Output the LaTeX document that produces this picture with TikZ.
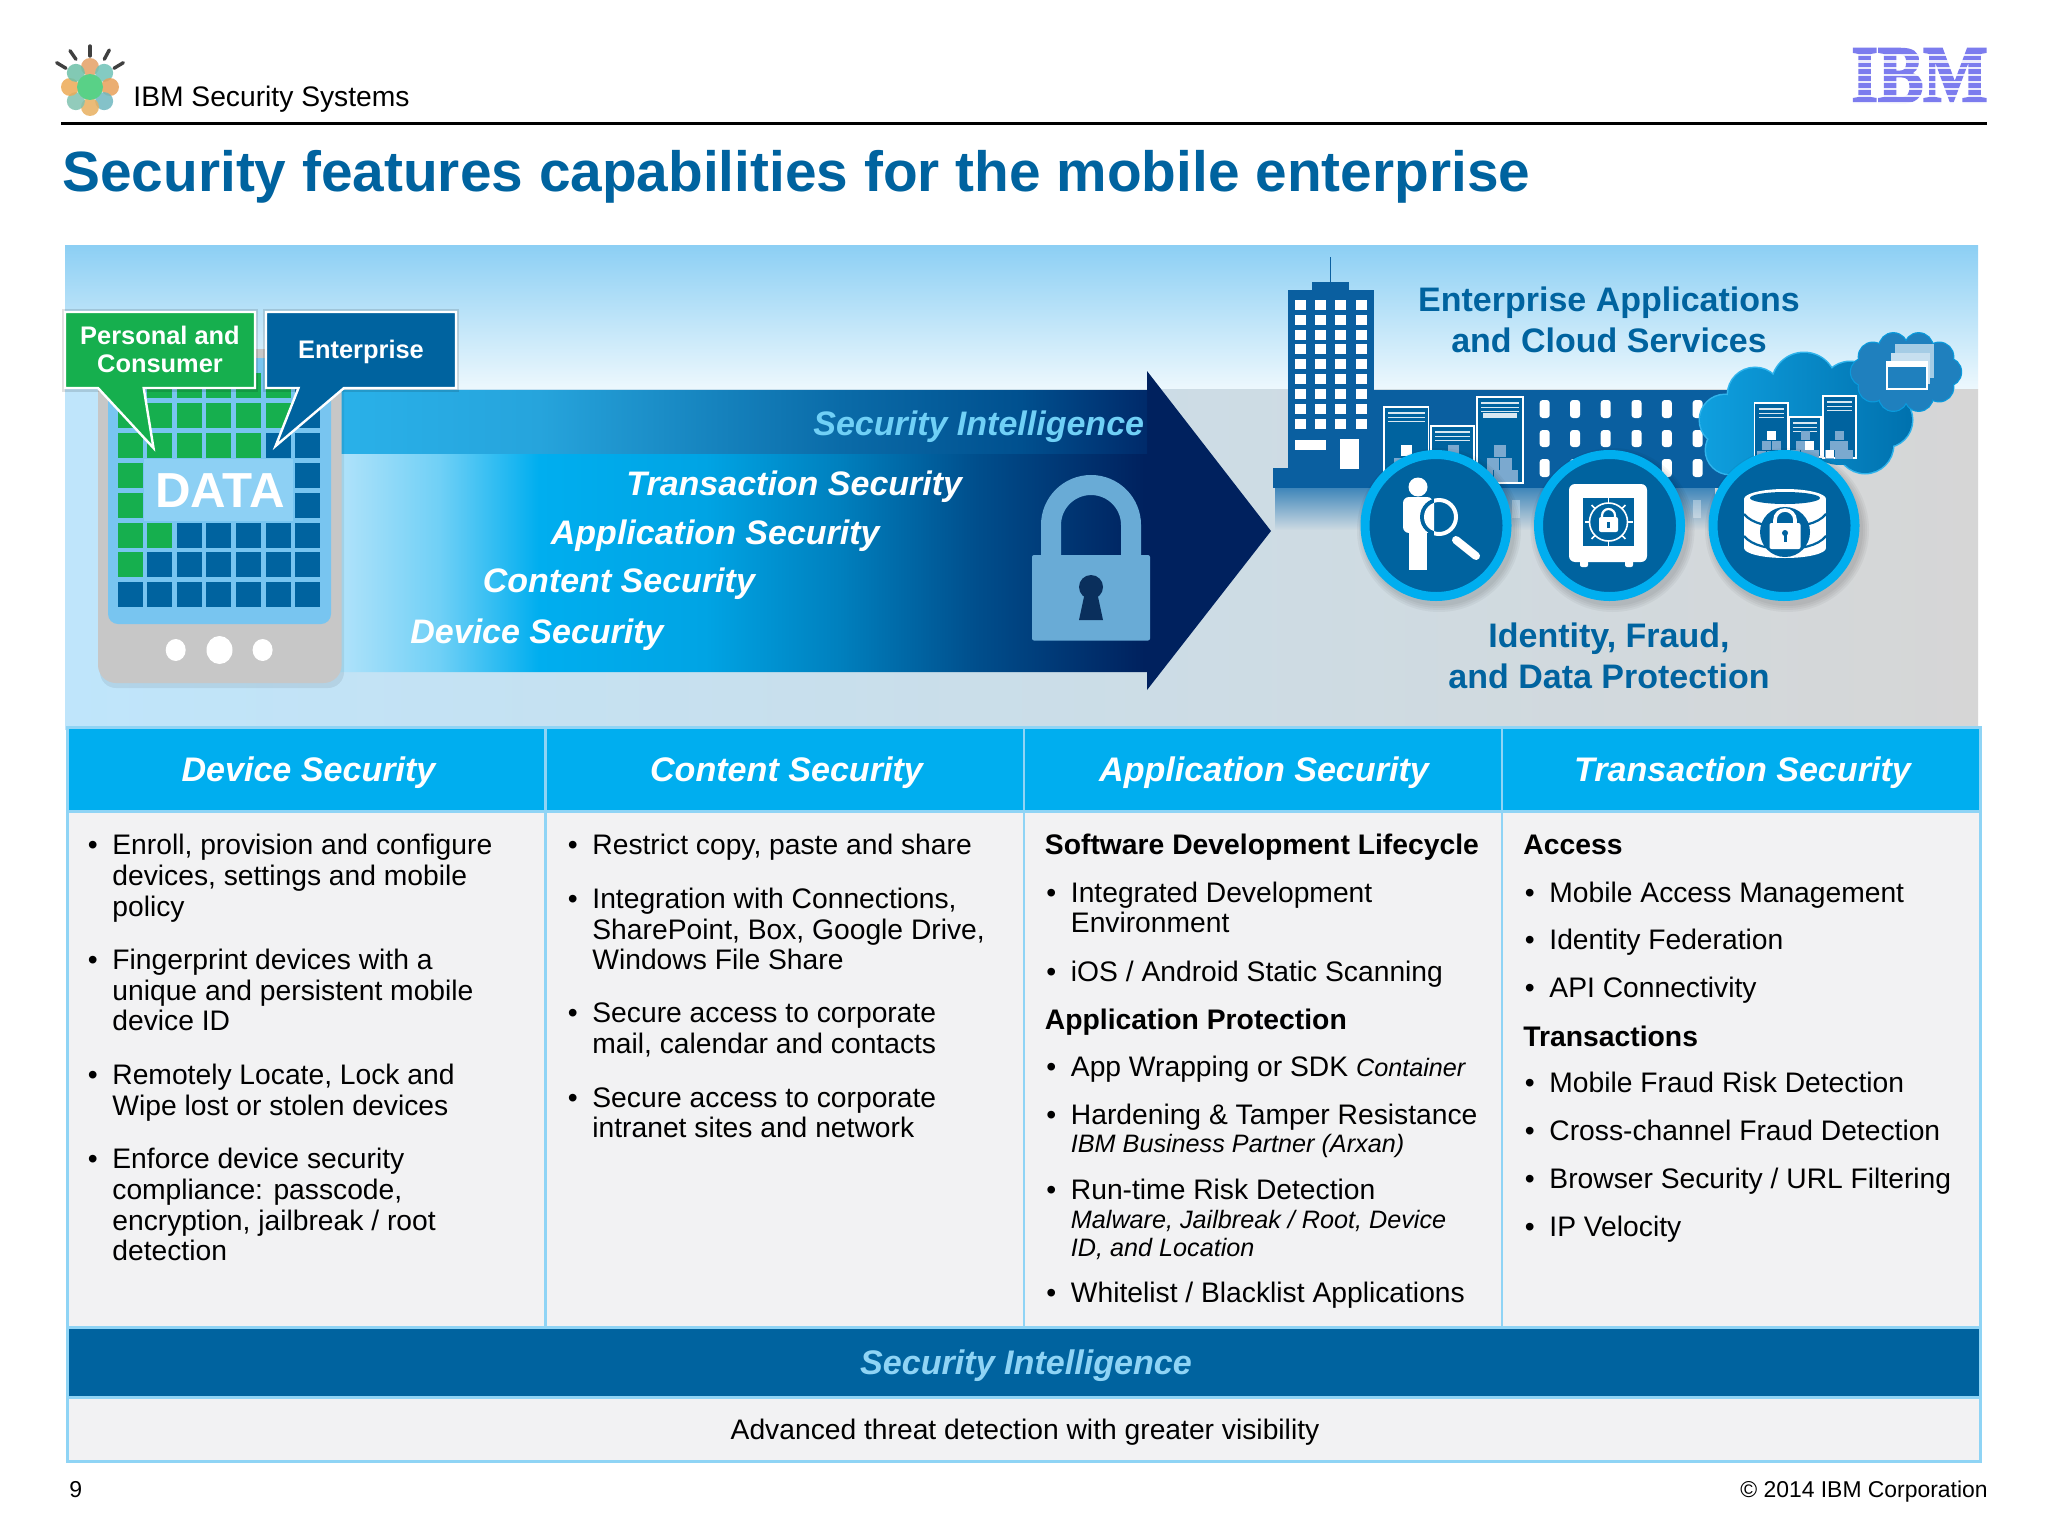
\documentclass[tikz,border=0pt]{standalone}
\usetikzlibrary{fadings}
\usepackage{graphicx}
\usepackage{fontspec}
\setmainfont{Liberation Sans}
\newfontfamily\logofont[UprightFont=* Bold,FakeBold=3]{Liberation Serif}
\definecolor{ibmblue}{HTML}{00639F}
\definecolor{cyanhead}{HTML}{00AEEF}
\definecolor{gridline}{HTML}{8FD4F5}
\definecolor{cellbg}{HTML}{F2F2F3}
\definecolor{greenbox}{HTML}{16AF4E}
\definecolor{bldg}{HTML}{0A5FA0}
\definecolor{lockblue}{HTML}{69ABD6}
\definecolor{cubeblue}{HTML}{7BA9CF}
\definecolor{lightband}{HTML}{BDE6FB}
\definecolor{lba}{HTML}{70D0F6}
\definecolor{lbb}{HTML}{00AEEF}
\definecolor{lbc}{HTML}{00A4E4}
\definecolor{lbd}{HTML}{0080BE}
\definecolor{lbe}{HTML}{004F8D}
\definecolor{lbf}{HTML}{00215E}
\definecolor{uba}{HTML}{2AB2EA}
\definecolor{ubb}{HTML}{26A4DC}
\definecolor{ubc}{HTML}{0A6BA8}
\definecolor{ubd}{HTML}{00508F}
\definecolor{ube}{HTML}{002A6A}
\pgfdeclarehorizontalshading{lowband}{100bp}{color(0bp)=(lightband); color(25bp)=(lightband); color(31.25bp)=(lba); color(36.5bp)=(lbb); color(45.25bp)=(lbc); color(52.3bp)=(lbd); color(59.35bp)=(lbe); color(68.35bp)=(lbf); color(75bp)=(lbf); color(100bp)=(lbf)}
\pgfdeclarehorizontalshading{topband}{100bp}{color(0bp)=(uba); color(25bp)=(uba); color(38.25bp)=(ubb); color(56.5bp)=(ubc); color(67.35bp)=(ubd); color(75bp)=(ube); color(100bp)=(ube)}
\newcount\tcnt
\tikzset{
  tl/.style={inner sep=0pt,anchor=base west,font=\fontsize{14.12}{16}\selectfont,text=black},
  hd/.style={inner sep=0pt,anchor=base,font=\fontsize{17.05}{20}\selectfont\bfseries\itshape,text=white},
  bluet/.style={inner sep=0pt,anchor=base,font=\fontsize{17}{20}\selectfont\bfseries,text=ibmblue},
  arrowt/.style={inner sep=0pt,anchor=base west,font=\fontsize{17}{20}\selectfont\bfseries\itshape,text=white},
  calt/.style={inner sep=0pt,anchor=base,font=\fontsize{12.7}{14}\selectfont\bfseries,text=white},
  callout/.style={draw=white,line width=1.2pt,line join=miter},
  ring/.style={fill=ibmblue,draw=cyanhead,line width=4.5pt}
}
\newcommand\tline[3]{\global\advance\tcnt by 1 \node[tl] (t\the\tcnt) at (#1,#2) {#3};}
\newcommand\bitem[3]{\global\advance\tcnt by 1 \node[tl] (t\the\tcnt) at (#1-24.5,#2) {•};\tline{#1}{#2}{#3}}
\newcommand\subl[3]{\global\advance\tcnt by 1 \node[tl,font=\fontsize{12.6}{14}\selectfont\itshape] (t\the\tcnt) at (#1,#2) {#3};}
\newcommand\heading[3]{\global\advance\tcnt by 1 \node[tl,font=\fontsize{14.15}{16}\selectfont\bfseries] (t\the\tcnt) at (#1,#2) {#3};}
% cx, shackle top, body half width, body top, body bottom, shackle half width, line width, colour
\newcommand\padlock[8]{%
  \draw[#8,line width=#7] (#1-#6,#4+2) -- (#1-#6,#2+#6)
    .. controls (#1-#6,#2+0.4477*#6) and (#1-0.5523*#6,#2) .. (#1,#2)
    .. controls (#1+0.5523*#6,#2) and (#1+#6,#2+0.4477*#6) .. (#1+#6,#2+#6) -- (#1+#6,#4+2);
  \fill[#8,rounded corners=1pt] (#1-#3,#4) rectangle (#1+#3,#5);}
\newcommand\rack[4]{%
  \fill[ibmblue] (#1,#2) rectangle (#3,#4);
  \draw[white,line width=0.8pt] (#1,#2) rectangle (#3,#4);
  \fill[white!85!ibmblue] (#1+4,#2+5) rectangle (#3-4,#2+7);
  \fill[white!85!ibmblue] (#1+4,#2+10) rectangle (#3-4,#2+11);
  \fill[white!85!ibmblue] (#1+4,#2+14) rectangle (#3-4,#2+15);}
% cx, ytop, cube size, pitch
\newcommand\cubes[4]{%
  \fill[cubeblue] (#1-#3/2,#2) rectangle (#1+#3/2,#2+#3);
  \fill[cubeblue] (#1-#4/2-#3/2,#2+#4) rectangle (#1-#4/2+#3/2,#2+#4+#3);
  \fill[cubeblue] (#1+#4/2-#3/2,#2+#4) rectangle (#1+#4/2+#3/2,#2+#4+#3);
  \fill[cubeblue] (#1-#4-#3/2,#2+2*#4) rectangle (#1-#4+#3/2,#2+2*#4+#3);
  \fill[cubeblue] (#1-#3/2,#2+2*#4) rectangle (#1+#3/2,#2+2*#4+#3);
  \fill[cubeblue] (#1+#4-#3/2,#2+2*#4) rectangle (#1+#4+#3/2,#2+2*#4+#3);}
\begin{document}
\begin{tikzpicture}[x=0.5pt,y=-0.5pt]
\useasboundingbox (0,0) rectangle (2048,1536);
\fill[white] (0,0) rectangle (2048,1536);

% ---------- header ----------
\foreach \xa/\ya/\xb/\yb in {56.7/62.7/66/68.3,70/50.7/76/59.3,90/46/90/56,109.3/50/104.3/59.3,123.3/62.7/114/68.3}
  \draw[black!75,line width=1.7pt,line cap=round] (\xa,\ya) -- (\xb,\yb);
\foreach \a/\cc in {90/E5A066,45/6FC2B8,0/E8A05A,-45/6FB8C0,-90/E8B060,-135/7FC2B0,180/EDAA55,135/6DC0A8}{
  \definecolor{petal}{HTML}{\cc}
  \fill[petal,opacity=0.85] ({90+20*cos(\a)},{87-20*sin(\a)}) circle [radius=9];
}
\fill[green!45!teal!65] (90,87) circle [radius=13];
\tline{133}{106.5}{IBM Security Systems}
\draw[black,line width=1.5pt] (61,123) -- (1987,123);
\definecolor{ibmlogo}{HTML}{7C7CEE}
\node[inner sep=0pt,anchor=base,text=ibmlogo,font=\fontsize{40.5}{44}\logofont] (ibm) at (1919.5,102) {\scalebox{0.84}[1]{IBM}};
\foreach \k in {0,...,7}
  \fill[white,opacity=0.85] (1845,{53.6+6.85*\k}) rectangle (1995,{55.8+6.85*\k});
\node[inner sep=0pt,anchor=base west,text=ibmblue,font=\fontsize{28.4}{32}\selectfont\bfseries] (title) at (62,191.5) {Security features capabilities for the mobile enterprise};

% ---------- scene background ----------
\definecolor{skytop}{HTML}{8CCFF4}\definecolor{skybot}{HTML}{EDF8FD}
\shade[top color=skytop,bottom color=skybot] (65,245) rectangle (1978,389);
\definecolor{lowa}{HTML}{BFE5FB}\definecolor{lowb}{HTML}{C6E0EF}\definecolor{lowc}{HTML}{D6D6D6}
\shade[left color=lowa,middle color=lowb,right color=lowc] (65,389) rectangle (1978,729);

% ---------- arrow ----------
\shade[shading=lowband] (320,390) -- (1147,390) -- (1147,371) -- (1271,531) -- (1147,690) -- (1147,672) -- (320,672) -- cycle;
\shade[shading=topband] (320,390) rectangle (1147,453.6);
\node[arrowt,text=lba] (siarrow) at (813,435) {Security Intelligence};
\node[arrowt] (tsarrow) at (626,495) {Transaction Security};
\node[arrowt] (asarrow) at (550.5,544) {Application Security};
\node[arrowt] (csarrow) at (482.5,592) {Content Security};
\node[arrowt] (dsarrow) at (410,643) {Device Security};
\padlock{1091}{485}{59}{555}{640.5}{40}{10pt}{lockblue}
\definecolor{keyhole}{HTML}{0A2F5C}
\fill[keyhole] (1091,587) circle [radius=12];
\fill[keyhole] (1085,592) -- (1097,592) -- (1103,620) -- (1079,620) -- cycle;

% ---------- phone ----------
\fill[black,opacity=0.07,rounded corners=8pt] (100,355) rectangle (344,688);
\fill[black!22,rounded corners=9pt] (98,349) rectangle (341.6,683);
\definecolor{screenb}{HTML}{78C5F0}
\fill[screenb,rounded corners=5pt] (108,358) rectangle (331,624);
\foreach \r/\n in {0/6,1/6,2/5,3/1,4/1,5/2,6/1,7/0}{
  \foreach \cc in {0,...,6}{
    \pgfmathtruncatemacro{\isg}{\cc<\n ? 1 : 0}
    \ifnum\isg=1 \fill[greenbox] ({117.6+29.6*\cc},{373+29.9*\r}) rectangle ++(25,25);
    \else \fill[ibmblue] ({117.6+29.6*\cc},{373+29.9*\r}) rectangle ++(25,25);\fi
  }
}
\definecolor{databg}{HTML}{8DD0F4}
\fill[databg] (144,459) rectangle (293,521);
\node[inner sep=0pt,anchor=base,text=white,font=\fontsize{24.6}{26}\selectfont\bfseries] (data) at (220,507) {DATA};
\fill[white] (175.7,650) ellipse [x radius=10,y radius=11];
\fill[white] (219.5,650) ellipse [x radius=13,y radius=14];
\fill[white] (262.6,650) ellipse [x radius=10,y radius=11];

% ---------- callouts ----------
\fill[black,opacity=0.12] (62,309) rectangle (258,392);
\fill[black,opacity=0.12] (263,309) rectangle (459,392);
\draw[callout,fill=greenbox] (65,312) -- (255,312) -- (255,388) -- (143.7,388) -- (153.5,448) -- (98,388) -- (65,388) -- cycle;
\draw[callout,fill=ibmblue] (266,312) -- (456,312) -- (456,388) -- (344,388) -- (275.6,446) -- (298.5,388) -- (266,388) -- cycle;
\node[calt] (pc1) at (160,344) {Personal and};
\node[calt] (pc2) at (160,372) {Consumer};
\node[calt] (ent) at (361,358) {Enterprise};

% ---------- building ----------
\definecolor{reflA}{HTML}{3F86BA}
\fill[reflA,path fading=south] (1275,488) rectangle (1715,530);
\fill[white,opacity=0.35] (1512,500) rectangle (1520,518);
\fill[white,opacity=0.35] (1693,500) rectangle (1701,518);
\draw[bldg,line width=0.5pt] (1330,283) -- (1330,257);
\fill[bldg] (1312,282) rectangle (1349,292);
\fill[bldg] (1287.5,290) rectangle (1374,488);
\fill[bldg] (1273,468) rectangle (1290,488);
\fill[bldg] (1374,390) rectangle (1740,488);
\foreach \yy in {305,319.7,334.7,349.3,364.3,379.3,394.3,409.3,424.3}
  \foreach \xx in {1300.4,1320.6,1340.8,1361}
    \fill[white] (\xx-5.5,\yy-5) rectangle (\xx+5.5,\yy+5);
\fill[white] (1295,440) rectangle (1326,450);
\fill[white] (1340,439) rectangle (1359,469);
\foreach \yy/\yz in {400/418,430/447,459/477}
  \foreach \xx in {1544.7,1575,1605.7,1636.5,1666.8,1697.6}
    \fill[white,rounded corners=1.5pt] (\xx-5,\yy) rectangle (\xx+5,\yz);
\rack{1384}{407}{1428.5}{490}
\rack{1431}{426}{1474}{490}
\rack{1477}{397}{1523}{483}
\fill[white!85!ibmblue] (1483,413) rectangle (1517,418);
\cubes{1406}{445}{11}{13}
\fill[white] (1400.5,445) rectangle (1411.5,456);
\cubes{1453}{445}{11}{13}
\cubes{1499.5}{445}{12}{12.5}
\fill[white] (1480,470) rectangle (1487,480);

% ---------- clouds ----------
\definecolor{cloudline}{HTML}{30B4EC}
\definecolor{cloudA}{HTML}{0FA0DF}\definecolor{cloudB}{HTML}{0071AE}
\foreach \cx/\cy/\rr in {1804/385/32,1755/395/27,1725/420/25,1730/450/24,1850/390/28,1885/420/27,1865/445/28,1800/445/30,1760/448/25}
  \draw[cloudline,line width=1.5pt] (\cx,\cy) circle [radius=\rr];
\shade[left color=cloudA,right color=cloudB]
  (1804,385) circle [radius=32] (1755,395) circle [radius=27] (1725,420) circle [radius=25]
  (1730,450) circle [radius=24] (1850,390) circle [radius=28] (1885,420) circle [radius=27]
  (1865,445) circle [radius=28] (1800,445) circle [radius=30] (1760,448) circle [radius=25]
  (1800,420) circle [radius=45] (1840,425) circle [radius=40] (1760,420) circle [radius=35];
\definecolor{smcloud}{HTML}{1F80BE}
\definecolor{smline}{HTML}{0A9BDD}
\foreach \a in {0,36,...,324}
  \draw[smline,line width=1.2pt] ({1906+41*cos(\a)},{372+26*sin(\a)}) circle [radius=14];
\foreach \a in {0,36,...,324}
  \fill[smcloud] ({1906+41*cos(\a)},{372+26*sin(\a)}) circle [radius=14];
\fill[smcloud] (1906,372) ellipse [x radius=45,y radius=30];
\fill[white!60!smcloud] (1895,344) rectangle (1934,378);
\fill[white!75!smcloud] (1891,353) rectangle (1930,384);
\draw[white,line width=0.8pt,fill=smcloud] (1887,362) rectangle (1927,389);
\fill[white] (1887,362) rectangle (1927,367);
\rack{1754.5}{403}{1788}{458}
\rack{1789}{417}{1821}{457}
\rack{1823}{396}{1856}{458}
\cubes{1771}{431}{9}{10}
\fill[white] (1766.5,431) rectangle (1775.5,440);
\cubes{1805}{431}{9}{9.5}
\fill[white] (1805,440.5) rectangle (1814,449.5);
\cubes{1839}{431}{9}{9.5}
\fill[white] (1825.5,450) rectangle (1834,458);

% ---------- scene labels ----------
\node[bluet] (ea1) at (1609,311.7) {Enterprise Applications};
\node[bluet] (ea2) at (1609,352) {and Cloud Services};
\node[bluet] (if1) at (1609,647) {Identity, Fraud,};
\node[bluet] (if2) at (1609,688) {and Data Protection};

% ---------- circles ----------
\foreach \cx in {1436,1609.5,1784}{
  \foreach \rr in {82,80,78,76}
    \fill[black,opacity=0.04] (\cx+3,530) circle [radius=\rr];
  \path[ring] (\cx,525.5) circle [radius=71];
}
% identity icon
\fill[white] (1418,487) circle [radius=9.5];
\fill[white,rounded corners=3pt] (1403,497) rectangle (1433,533);
\fill[white] (1409,530) rectangle (1427,570);
\fill[ibmblue] (1439,517) circle [radius=19];
\begin{scope}
  \clip (1390,490) rectangle (1434,550);
  \fill[white] (1439,517) circle [radius=15];
\end{scope}
\begin{scope}
  \clip (1434,490) rectangle (1470,550);
  \fill[white,even odd rule] (1439,517) circle [radius=19] (1439,517) circle [radius=15];
\end{scope}
\draw[white,line width=4pt,line cap=round] (1456,540) -- (1476,556);
% safe icon
\fill[white,rounded corners=3pt] (1569,484) rectangle (1647,562);
\fill[white,rounded corners=1pt] (1580,560) rectangle (1588,567);
\fill[white,rounded corners=1pt] (1625,560) rectangle (1633,567);
\fill[ibmblue] (1583,498) rectangle (1634,546);
\draw[white,line width=0.8pt] (1608.5,522) circle [radius=19];
\foreach \a in {0,45,...,315}
  \draw[white,line width=0.8pt] ({1608.5+19*cos(\a)},{522+19*sin(\a)}) -- ({1608.5+24*cos(\a)},{522+24*sin(\a)});
\padlock{1608.5}{509}{9.5}{517}{532}{6.5}{1.1pt}{white}
\fill[ibmblue] (1607,522) rectangle (1610,528);
% database icon
\fill[white] (1744,499) rectangle (1826,548);
\fill[white] (1785,499) ellipse [x radius=41,y radius=10];
\fill[white] (1785,548) ellipse [x radius=41,y radius=10];
\fill[ibmblue] (1785,498) ellipse [x radius=35,y radius=6];
\draw[ibmblue,line width=1.1pt] (1744,514) .. controls (1752,524) and (1770,527) .. (1785,527) .. controls (1800,527) and (1818,524) .. (1826,514);
\draw[ibmblue,line width=1.1pt] (1744,536) .. controls (1752,546) and (1770,549) .. (1785,549) .. controls (1800,549) and (1818,546) .. (1826,536);
\fill[ibmblue] (1785,532) circle [radius=25];
\padlock{1785}{510}{15.5}{523}{549}{10}{1.8pt}{white}
\fill[ibmblue] (1785,533) circle [radius=3];
\fill[ibmblue] (1783.5,534) rectangle (1786.5,542);

% ---------- table ----------
\fill[cellbg] (67,811) rectangle (1980,1327);
\fill[cellbg] (67,1397) rectangle (1980,1461);
\fill[cyanhead] (67,728) rectangle (1980,810);
\fill[ibmblue] (67,1327) rectangle (1980,1396);
\draw[gridline,line width=1.5pt] (67,727) rectangle (1980,1461);
\draw[gridline,line width=1.5pt] (67,811) -- (1980,811);
\draw[gridline,line width=1.5pt] (67,1327) -- (1980,1327);
\draw[gridline,line width=1.5pt] (67,1397) -- (1980,1397);
\foreach \xx in {545.5,1024,1502}
  \draw[gridline,line width=1.2pt] (\xx,727) -- (\xx,1327);
\node[hd] (h1) at (308.5,781) {Device Security};
\node[hd] (h2) at (786.5,781) {Content Security};
\node[hd] (h3) at (1264,781) {Application Security};
\node[hd] (h4) at (1742.5,781) {Transaction Security};
% column 1
\bitem{112}{854.4}{Enroll, provision and configure}
\tline{112}{885.3}{devices, settings and mobile}
\tline{112}{916.1}{policy}
\bitem{112}{969.1}{Fingerprint devices with a}
\tline{112}{1000}{unique and persistent mobile}
\tline{112}{1030.8}{device ID}
\bitem{112}{1084.8}{Remotely Locate, Lock and}
\tline{112}{1115.6}{Wipe lost or stolen devices}
\bitem{112}{1168.4}{Enforce device security}
\tline{112}{1199.3}{compliance: passcode,}
\tline{112}{1230}{encryption, jailbreak / root}
\tline{112}{1260.9}{detection}
% column 2
\bitem{592}{854.4}{Restrict copy, paste and share}
\bitem{592}{908.2}{Integration with Connections,}
\tline{592}{939}{SharePoint, Box, Google Drive,}
\tline{592}{969.9}{Windows File Share}
\bitem{592}{1022.9}{Secure access to corporate}
\tline{592}{1053.7}{mail, calendar and contacts}
\bitem{592}{1107.5}{Secure access to corporate}
\tline{592}{1137.5}{intranet sites and network}
% column 3
\heading{1044.5}{854.4}{Software Development Lifecycle}
\bitem{1070.5}{902}{Integrated Development}
\tline{1070.5}{932.7}{Environment}
\bitem{1070.5}{981}{iOS / Android Static Scanning}
\heading{1044.5}{1029.4}{Application Protection}
\bitem{1070.5}{1076}{App Wrapping or SDK {\fontsize{12.6}{14}\selectfont\itshape Container}}
\bitem{1070.5}{1124}{Hardening \& Tamper Resistance}
\subl{1070.5}{1152}{IBM Business Partner (Arxan)}
\bitem{1070.5}{1199}{Run-time Risk Detection}
\subl{1070.5}{1228}{Malware, Jailbreak / Root, Device}
\subl{1070.5}{1256}{ID, and Location}
\bitem{1070.5}{1302}{Whitelist / Blacklist Applications}
% column 4
\heading{1523}{854.4}{Access}
\bitem{1549}{902}{Mobile Access Management}
\bitem{1549}{949.3}{Identity Federation}
\bitem{1549}{997.6}{API Connectivity}
\heading{1523}{1046}{Transactions}
\bitem{1549}{1092.5}{Mobile Fraud Risk Detection}
\bitem{1549}{1140}{Cross-channel Fraud Detection}
\bitem{1549}{1188}{Browser Security / URL Filtering}
\bitem{1549}{1236}{IP Velocity}
% bottom
\node[hd,text=gridline] (si) at (1026,1374) {Security Intelligence};
\node[tl,anchor=base] (adv) at (1025,1439) {Advanced threat detection with greater visibility};
\node[tl,font=\fontsize{11.5}{13}\selectfont] (page) at (69,1497) {9};
\node[tl,anchor=base east,font=\fontsize{11.45}{13}\selectfont] (copy) at (1988,1497) {© 2014 IBM Corporation};
\end{tikzpicture}
\end{document}
